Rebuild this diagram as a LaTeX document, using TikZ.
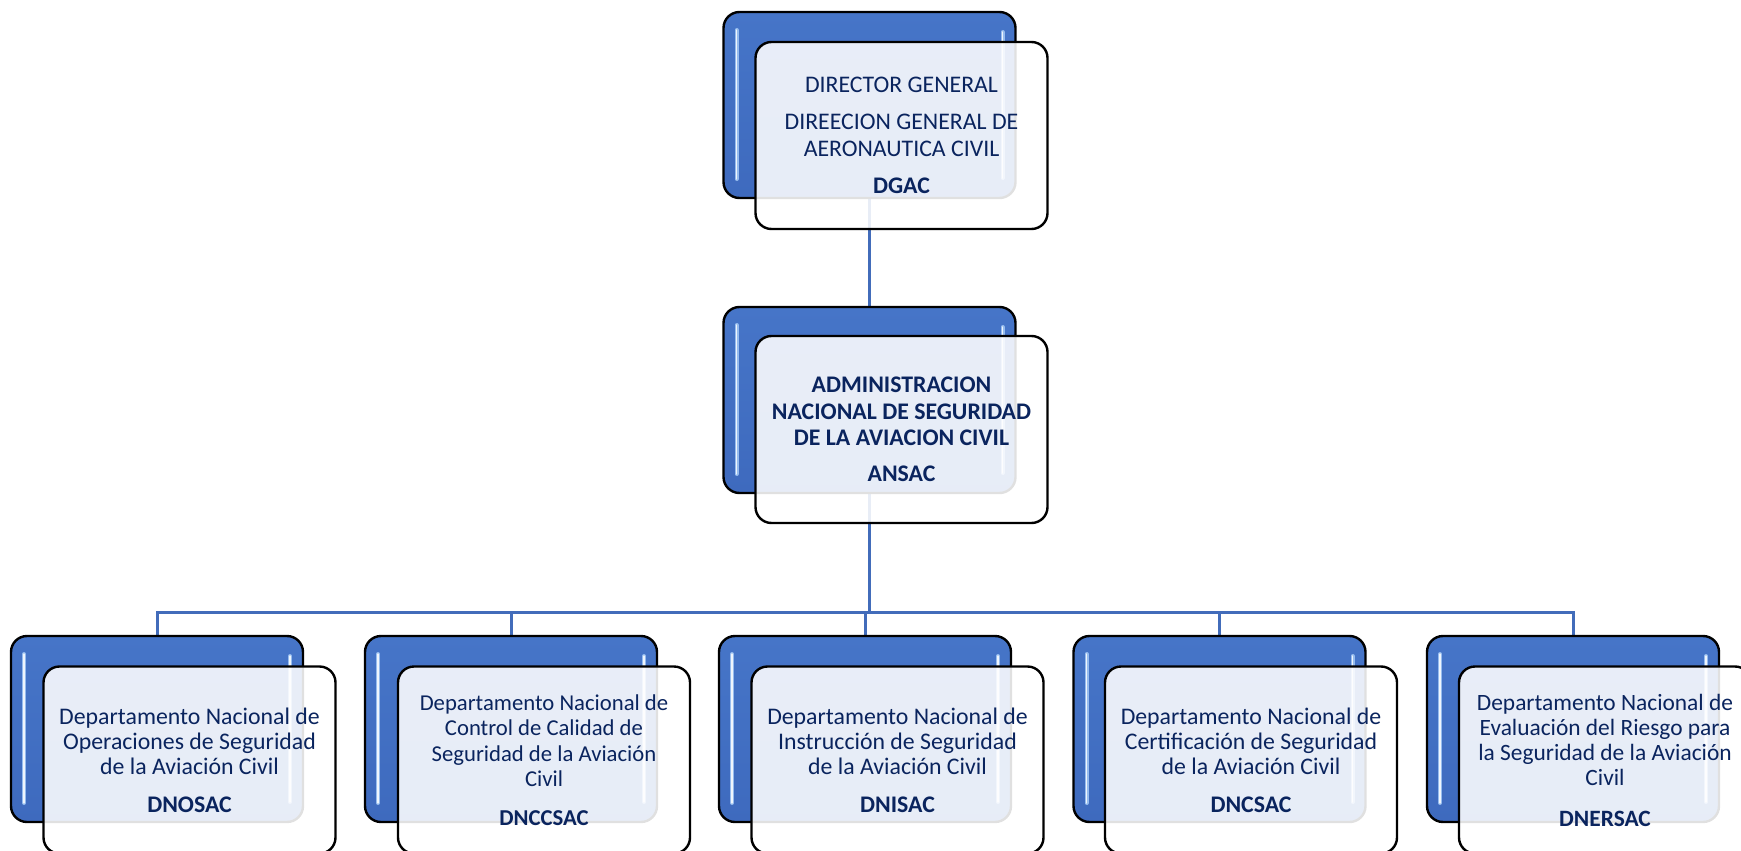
\documentclass[tikz,border=0pt]{standalone}
\usepackage{fontspec}
\setmainfont{Carlito}
\definecolor{bluetop}{RGB}{70,117,200}
\definecolor{bluebot}{RGB}{62,106,190}
\definecolor{navy}{RGB}{10,36,94}
\definecolor{lineblue}{RGB}{66,108,186}
\definecolor{hlblue}{RGB}{150,188,238}
\pgfdeclarelayer{bg}
\pgfsetlayers{bg,main}
\tikzset{
  bluebox/.style={rectangle, rounded corners=16pt, minimum width=292pt, minimum height=186pt,
    inner sep=0pt, draw=black, line width=2.4pt, top color=bluetop, bottom color=bluebot,
    path picture={
      \draw[hlblue, line width=4pt, line cap=round]
        ([xshift=13pt,yshift=-18pt]path picture bounding box.north west) --
        ([xshift=13pt,yshift=19pt]path picture bounding box.south west);
      \draw[white!85!hlblue, line width=1.4pt, line cap=round]
        ([xshift=13pt,yshift=-18pt]path picture bounding box.north west) --
        ([xshift=13pt,yshift=19pt]path picture bounding box.south west);
      \draw[hlblue, line width=4pt, line cap=round]
        ([xshift=-13pt,yshift=-20pt]path picture bounding box.north east) --
        ([xshift=-13pt,yshift=20pt]path picture bounding box.south east);
      \draw[white!85!hlblue, line width=1.4pt, line cap=round]
        ([xshift=-13pt,yshift=-20pt]path picture bounding box.north east) --
        ([xshift=-13pt,yshift=20pt]path picture bounding box.south east);
    }},
  frontbox/.style={rectangle, rounded corners=16pt, minimum width=292pt, minimum height=187pt,
    inner sep=0pt, draw=black, line width=2.4pt, fill=white, fill opacity=0.88,
    text opacity=1, text=navy, align=center, font=\fontsize{23.8}{25}\selectfont},
  conn/.style={draw=lineblue, line width=3pt}
}
\begin{document}
\begin{tikzpicture}[x=1pt,y=-1pt]
\useasboundingbox (0,0) rectangle (1741,851);
\clip (0,0) rectangle (1741,851);
% top
\node[bluebox] (dgacB) at (869.5,105) {};
\node[frontbox, font=\fontsize{23.8}{27}\selectfont] (dgacF) at (901.5,135.5)
  {DIRECTOR GENERAL\\[10pt]DIREECION GENERAL DE\\AERONAUTICA CIVIL\\[10pt]\textbf{DGAC}};
% middle
\node[bluebox] (ansacB) at (869.5,400) {};
\node[frontbox, font=\fontsize{23.8}{26.5}\selectfont\bfseries] (ansacF) at (901.5,429.5)
  {ADMINISTRACION\\NACIONAL DE SEGURIDAD\\DE LA AVIACION CIVIL\\[9.5pt]ANSAC};
% bottom
\node[bluebox] (b1B) at (157,729) {};
\node[frontbox] (b1F) at (189.5,760)
  {Departamento Nacional de\\Operaciones de Seguridad\\de la Aviación Civil\\[13pt]\textbf{DNOSAC}};
\node[bluebox] (b2B) at (511,729) {};
\node[frontbox, font=\fontsize{22.7}{25.5}\selectfont] (b2F) at (544,760)
  {Departamento Nacional de\\Control de Calidad de\\Seguridad de la Aviación\\Civil\\[13pt]\textbf{DNCCSAC}};
\node[bluebox] (b3B) at (865,729) {};
\node[frontbox] (b3F) at (897.5,760)
  {Departamento Nacional de\\Instrucción de Seguridad\\de la Aviación Civil\\[13pt]\textbf{DNISAC}};
\node[bluebox] (b4B) at (1219.5,729) {};
\node[frontbox] (b4F) at (1251,760)
  {Departamento Nacional de\\Certificación de Seguridad\\de la Aviación Civil\\[13pt]\textbf{DNCSAC}};
\node[bluebox] (b5B) at (1573,729) {};
\node[frontbox, font=\fontsize{23.4}{25}\selectfont] (b5F) at (1605,760)
  {Departamento Nacional de\\Evaluación del Riesgo para\\la Seguridad de la Aviación\\Civil\\[16pt]\textbf{DNERSAC}};
% connectors
\begin{pgfonlayer}{bg}
\coordinate (bus) at (869.5,612);
\draw[conn] (dgacB.south) -- (ansacB.north);
\draw[conn] (ansacB.south) -- (bus);
\foreach \b in {b1B,b2B,b3B,b4B,b5B}
  \draw[conn] (bus) -| (\b.north);
\end{pgfonlayer}
\end{tikzpicture}
\end{document}
